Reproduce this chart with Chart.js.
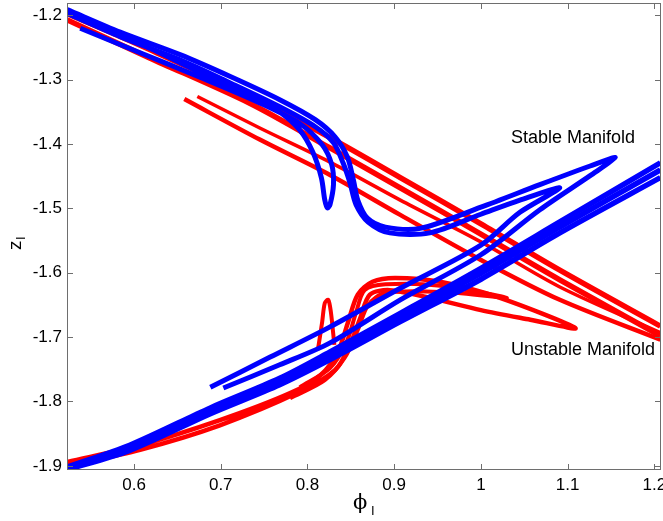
<!DOCTYPE html>
<html>
<head>
<meta charset="utf-8">
<script src="https://cdn.jsdelivr.net/npm/chart.js@4.4.0/dist/chart.umd.min.js"></script>
<style>
  html, body { margin: 0; padding: 0; background: #fff; }
</style>
</head>
<body>
<canvas id="manifolds" width="663" height="521"></canvas>
<script>
// axis limits and tick values (phi_I horizontal, z_I vertical)
var xRange = [0.5227, 1.2077];
var yRange = [-1.9065, -1.1807];
var xTicks = [0.6, 0.7, 0.8, 0.9, 1.0, 1.1, 1.2];
var yTicks = [-1.2, -1.3, -1.4, -1.5, -1.6, -1.7, -1.8, -1.9];

// unstable manifold (red) strands, [phi, z]
var unstableUpper = [[0.523, -1.197], [0.618, -1.253], [0.734, -1.325], [0.826, -1.390], [0.907, -1.452], [1.000, -1.524], [1.091, -1.596], [1.207, -1.683]];
var unstableMid = [[0.523, -1.207], [0.618, -1.266], [0.734, -1.337], [0.826, -1.406], [0.907, -1.468], [1.000, -1.540], [1.091, -1.611], [1.207, -1.698]];
var unstableShortA = [[0.658, -1.330], [0.745, -1.393], [0.826, -1.448], [0.907, -1.510], [1.000, -1.580], [1.091, -1.642], [1.207, -1.704]];
var unstableShortB = [[0.673, -1.326], [0.745, -1.375], [0.826, -1.428], [0.907, -1.487], [1.000, -1.552], [1.091, -1.622], [1.207, -1.693]];
var unstableFold = [[0.523, -1.894], [0.607, -1.868], [0.699, -1.829], [0.780, -1.787], [0.815, -1.759], [0.835, -1.723], [0.847, -1.676], [0.858, -1.634], [0.875, -1.614], [0.901, -1.608], [0.953, -1.614], [1.022, -1.639], [1.109, -1.686], [1.057, -1.673], [1.000, -1.658], [0.941, -1.639], [0.895, -1.627], [0.872, -1.634], [0.861, -1.670], [0.849, -1.712], [0.832, -1.751], [0.791, -1.785], [0.699, -1.837], [0.607, -1.875], [0.523, -1.900]];
var unstableInner = [[0.780, -1.795], [0.820, -1.767], [0.843, -1.732], [0.858, -1.689], [0.870, -1.650], [0.890, -1.631], [0.959, -1.630], [1.030, -1.639], [0.953, -1.620], [0.890, -1.618], [0.866, -1.627], [0.856, -1.662], [0.845, -1.708], [0.826, -1.748], [0.791, -1.778]];
var unstableSpike = [[0.812, -1.720], [0.817, -1.676], [0.820, -1.647], [0.824, -1.642], [0.827, -1.661], [0.831, -1.712]];

// stable manifold (blue) strands
var stableOuter = [[0.523, -1.191], [0.584, -1.226], [0.653, -1.261], [0.711, -1.295], [0.768, -1.331], [0.809, -1.362], [0.832, -1.389], [0.846, -1.420], [0.853, -1.456], [0.858, -1.487], [0.869, -1.515], [0.890, -1.529], [0.930, -1.531], [1.000, -1.498], [1.068, -1.463], [1.126, -1.434], [1.155, -1.421], [1.126, -1.449], [1.068, -1.502], [1.000, -1.572], [0.907, -1.642], [0.826, -1.709], [0.768, -1.743], [0.703, -1.779]];
var stableInner = [[0.523, -1.197], [0.584, -1.233], [0.653, -1.269], [0.711, -1.305], [0.768, -1.342], [0.809, -1.373], [0.830, -1.398], [0.841, -1.429], [0.849, -1.460], [0.856, -1.494], [0.870, -1.521], [0.895, -1.538], [0.941, -1.538], [1.000, -1.509], [1.045, -1.487], [1.091, -1.468], [1.045, -1.506], [1.000, -1.557], [0.907, -1.624], [0.826, -1.684], [0.757, -1.731], [0.688, -1.778]];
var stableSpike = [[0.538, -1.205], [0.607, -1.244], [0.676, -1.288], [0.734, -1.323], [0.768, -1.350], [0.791, -1.378], [0.806, -1.412], [0.816, -1.452], [0.820, -1.487], [0.823, -1.499], [0.826, -1.494], [0.830, -1.463], [0.828, -1.432], [0.817, -1.401], [0.791, -1.368], [0.745, -1.336], [0.676, -1.296], [0.607, -1.258], [0.538, -1.220]];
var stableBandA = [[0.523, -1.902], [0.595, -1.868], [0.688, -1.810], [0.768, -1.764], [0.826, -1.723], [0.907, -1.663], [1.000, -1.593], [1.091, -1.521], [1.207, -1.429]];
var stableBandB = [[0.523, -1.904], [0.595, -1.872], [0.688, -1.815], [0.768, -1.769], [0.826, -1.729], [0.907, -1.669], [1.000, -1.601], [1.091, -1.529], [1.207, -1.440]];
var stableBandC = [[0.523, -1.906], [0.595, -1.876], [0.688, -1.819], [0.768, -1.774], [0.826, -1.735], [0.907, -1.676], [1.000, -1.610], [1.091, -1.538], [1.207, -1.452]];

var RED = '#ff0000';
var BLUE = '#0000ff';
var FONT = '"Liberation Sans", Arial, Helvetica, sans-serif';

function strand(points, color, width, order) {
  return {
    data: points.map(function (p) { return { x: p[0], y: p[1] }; }),
    showLine: true,
    borderColor: color,
    backgroundColor: color,
    borderWidth: width,
    pointRadius: 0,
    tension: 0.3,
    order: order
  };
}

function tickLabel(v) {
  return String(Math.round(v * 10) / 10);
}

// MATLAB-like box with inward ticks, annotations and subscripted axis labels
var matlabBox = {
  id: 'matlabBox',
  afterDraw: function (chart) {
    var ctx = chart.ctx;
    var a = chart.chartArea;
    var xs = chart.scales.x;
    var ys = chart.scales.y;
    ctx.save();
    ctx.strokeStyle = '#6e6e6e';
    ctx.lineWidth = 1;
    ctx.strokeRect(a.left + 0.5, a.top + 0.5, a.right - a.left - 1, a.bottom - a.top - 1);
    ctx.beginPath();
    xTicks.forEach(function (v) {
      var px = Math.round(xs.getPixelForValue(v)) + 0.5;
      ctx.moveTo(px, a.bottom); ctx.lineTo(px, a.bottom - 6);
      ctx.moveTo(px, a.top); ctx.lineTo(px, a.top + 6);
    });
    yTicks.forEach(function (v) {
      var py = Math.round(ys.getPixelForValue(v)) + 0.5;
      ctx.moveTo(a.left, py); ctx.lineTo(a.left + 6, py);
      ctx.moveTo(a.right, py); ctx.lineTo(a.right - 6, py);
    });
    ctx.stroke();

    ctx.fillStyle = '#000';
    ctx.textBaseline = 'alphabetic';
    ctx.textAlign = 'left';
    ctx.font = '18px ' + FONT;
    ctx.fillText('Stable Manifold', 511, 143);
    ctx.fillText('Unstable Manifold', 511, 355);

    // x label: phi_I
    ctx.font = '21px "DejaVu Serif", serif';
    ctx.fillText('\u03D5', 353, 509);
    ctx.font = '13px ' + FONT;
    ctx.fillText('I', 371, 515);

    // y label: z_I
    ctx.translate(21, 250);
    ctx.rotate(-Math.PI / 2);
    ctx.font = '19px ' + FONT;
    ctx.fillText('z', 0, 0);
    ctx.font = '13px ' + FONT;
    ctx.fillText('I', 10, 4);
    ctx.restore();
  }
};

new Chart(document.getElementById('manifolds').getContext('2d'), {
  type: 'scatter',
  data: {
    datasets: [
      strand(stableOuter, BLUE, 5, 0),
      strand(stableInner, BLUE, 5, 0),
      strand(stableSpike, BLUE, 5, 0),
      strand(stableBandA, BLUE, 5.5, 0),
      strand(stableBandB, BLUE, 5.5, 0),
      strand(stableBandC, BLUE, 5.5, 0),
      strand(unstableUpper, RED, 5.5, 1),
      strand(unstableMid, RED, 5.5, 1),
      strand(unstableShortA, RED, 4.5, 1),
      strand(unstableShortB, RED, 3.5, 1),
      strand(unstableFold, RED, 4.5, 1),
      strand(unstableInner, RED, 4, 1),
      strand(unstableSpike, RED, 4, 1)
    ]
  },
  options: {
    responsive: false,
    animation: false,
    layout: { padding: { left: 7, right: 2, top: 3, bottom: 0 } },
    plugins: {
      legend: { display: false },
      tooltip: { enabled: false }
    },
    scales: {
      x: {
        type: 'linear',
        min: xRange[0],
        max: xRange[1],
        grid: { display: false, drawTicks: false },
        border: { display: false },
        ticks: {
          color: '#000',
          font: { family: FONT, size: 17 },
          padding: 5,
          autoSkip: false,
          maxRotation: 0,
          callback: tickLabel
        },
        afterBuildTicks: function (scale) {
          scale.ticks = xTicks.map(function (v) { return { value: v }; });
        },
        afterFit: function (scale) {
          scale.height = 51;
          scale.paddingLeft = 0;
          scale.paddingRight = 0;
        }
      },
      y: {
        type: 'linear',
        min: yRange[0],
        max: yRange[1],
        grid: { display: false, drawTicks: false },
        border: { display: false },
        ticks: {
          color: '#000',
          font: { family: FONT, size: 17 },
          padding: 5,
          autoSkip: false,
          callback: tickLabel
        },
        afterBuildTicks: function (scale) {
          scale.ticks = yTicks.map(function (v) { return { value: v }; });
        },
        afterFit: function (scale) {
          scale.width = 60;
          scale.paddingTop = 0;
          scale.paddingBottom = 0;
        }
      }
    }
  },
  plugins: [matlabBox]
});
</script>
</body>
</html>
